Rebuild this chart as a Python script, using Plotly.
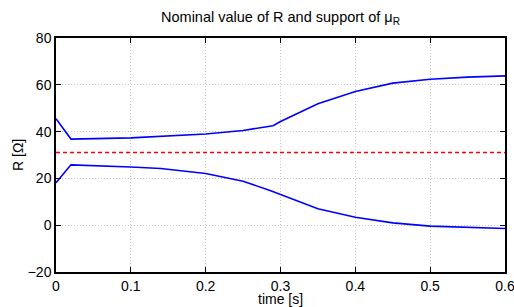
import plotly.graph_objects as go

t_up = [0, 0.02, 0.1, 0.15, 0.2, 0.25, 0.29, 0.3, 0.35, 0.4, 0.45, 0.5, 0.55, 0.6]
r_up = [45.5, 36.8, 37.3, 38.0, 39.0, 40.5, 42.5, 44.3, 51.9, 57.1, 60.7, 62.4, 63.3, 63.8]

t_lo = [0, 0.02, 0.1, 0.14, 0.2, 0.25, 0.286, 0.3, 0.35, 0.4, 0.45, 0.5, 0.55, 0.6]
r_lo = [18.1, 25.8, 24.9, 24.2, 22.1, 18.8, 14.8, 13.1, 7.0, 3.4, 1.0, -0.4, -1.0, -1.4]

t_nom = [0, 0.6]
r_nom = [31.1, 31.1]

x_ticks = [0, 0.1, 0.2, 0.3, 0.4, 0.5, 0.6]
x_labels = ["0", "0.1", "0.2", "0.3", "0.4", "0.5", "0.6"]
y_ticks = [-20, 0, 20, 40, 60, 80]

font = "Liberation Sans, Arial, Helvetica, sans-serif"

fig = go.Figure()
fig.add_trace(go.Scatter(x=t_up, y=r_up, mode="lines",
                         line=dict(color="#0000ff", width=1.6), showlegend=False))
fig.add_trace(go.Scatter(x=t_lo, y=r_lo, mode="lines",
                         line=dict(color="#0000ff", width=1.6), showlegend=False))
fig.add_trace(go.Scatter(x=t_nom, y=r_nom, mode="lines",
                         line=dict(color="#ff0000", width=1.4, dash="4px,3px"), showlegend=False))

axis_common = dict(
    showline=True, linecolor="black", linewidth=1.5, mirror="ticks",
    ticks="inside", ticklen=5, tickwidth=1, tickcolor="black",
    showgrid=True, gridcolor="#c4c4c4", griddash="1px,2px", gridwidth=1,
    zeroline=False, automargin=False, ticklabeloverflow="allow",
    tickfont=dict(size=14, color="black", family=font),
)

fig.update_layout(
    width=514, height=307,
    margin=dict(l=56, r=9, t=38, b=35),
    paper_bgcolor="white", plot_bgcolor="white",
    font=dict(family=font, size=14, color="black"),
    title=dict(text="Nominal value of R and support of μ<sub>R</sub>",
               x=(56 + 505) / 2 / 514, xanchor="center",
               y=1 - 17 / 307, yanchor="middle", yref="container",
               font=dict(size=14.5, family=font, color="black")),
    xaxis=dict(range=[0, 0.6], tickvals=x_ticks, ticktext=x_labels, **axis_common),
    yaxis=dict(range=[-20, 80], tickvals=y_ticks, **axis_common),
    annotations=[
        dict(text="time [s]", xref="paper", yref="paper",
             x=0.5, y=(272 - 299) / 234, xanchor="center", yanchor="middle",
             showarrow=False, font=dict(size=14, family=font, color="black")),
        dict(text="R [Ω]", xref="paper", yref="paper", textangle=-90,
             x=(18 - 56) / 449, y=0.5, xanchor="center", yanchor="middle",
             showarrow=False, font=dict(size=14, family=font, color="black")),
    ],
)

fig.write_html("out.html", config={"displayModeBar": False},
               post_script="document.body.style.margin='0';document.body.style.overflow='hidden';")
